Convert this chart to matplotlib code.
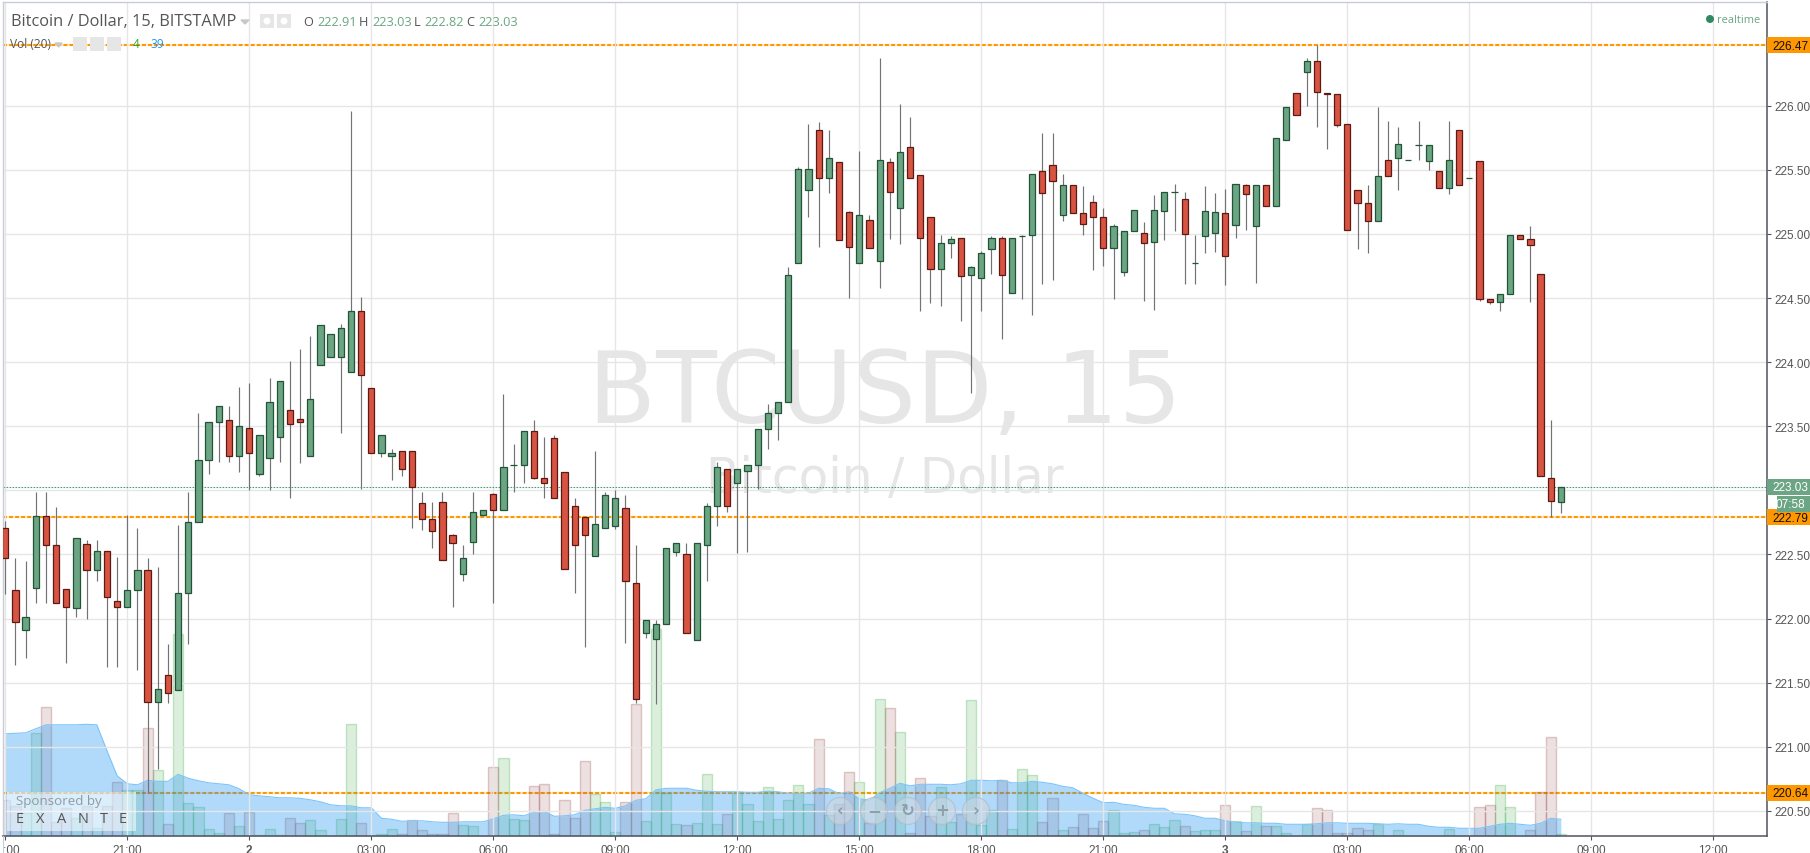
import matplotlib
matplotlib.use("Agg")
import numpy as np
import matplotlib.pyplot as plt
from matplotlib.patches import Circle, Rectangle

WIDTH = 1810
HEIGHT = 854
DPI = 100
PLOT_LEFT = 3.0
PLOT_RIGHT = 1767.3
PLOT_TOP = 2.7
PLOT_BOTTOM = 837.3
BAR_PX = 10.167
FIRST_BAR_PX = 5.3
PRICE_AT_TOP_GRID = 226.0
TOP_GRID_PX = 106.7
PX_PER_DOLLAR = 128.22
VOL_PER_PX = 2.0

UP = "#6ba583"
DOWN = "#d75442"
UP_EDGE = "#225437"
DOWN_EDGE = "#5b1a13"
WICK = "#737375"
GRID = "#e6e6e6"
AXIS = "#50535e"
ORANGE = "#ff9800"
TEXT = "#555555"

opens = [222.71, 222.22, 221.91, 222.24, 222.80, 222.57, 222.23, 222.08, 222.58, 222.38,
         222.53, 222.14, 222.09, 222.22, 222.38, 221.35, 221.56, 221.44, 222.20, 222.75,
         223.24, 223.53, 223.55, 223.27, 223.49, 223.13, 223.25, 223.42, 223.63, 223.56,
         223.27, 223.98, 224.04, 224.04, 223.92, 224.40, 223.80, 223.29, 223.27, 223.31,
         223.31, 222.90, 222.78, 222.91, 222.65, 222.35, 222.60, 222.81, 222.97, 222.85,
         223.20, 223.20, 223.46, 223.10, 223.41, 223.14, 222.88, 222.79, 222.49, 222.71,
         222.72, 222.86, 222.28, 221.89, 221.84, 221.96, 222.52, 222.50, 221.83, 222.57,
         222.88, 223.17, 223.06, 223.15, 223.20, 223.48, 223.60, 223.69, 224.77, 225.34,
         225.81, 225.44, 225.56, 225.17, 224.77, 225.11, 224.79, 225.56, 225.20, 225.68,
         225.46, 225.13, 224.73, 224.93, 224.97, 224.68, 224.66, 224.88, 224.97, 224.54,
         224.98, 224.99, 225.49, 225.54, 225.15, 225.38, 225.16, 225.25, 225.13, 224.89,
         224.70, 225.02, 225.01, 224.94, 225.18, 225.33, 225.27, 224.77, 224.98, 225.01,
         225.16, 225.07, 225.38, 225.06, 225.38, 225.22, 225.73, 226.10, 226.26, 226.35,
         226.10, 226.09, 225.86, 225.34, 225.24, 225.10, 225.58, 225.59, 225.58, 225.69,
         225.57, 225.49, 225.36, 225.81, 225.44, 225.57, 224.49, 224.47, 224.53, 224.99,
         224.96, 224.69, 223.10, 222.91]
highs = [222.76, 222.47, 222.45, 222.99, 222.99, 222.87, 222.23, 222.63, 222.61, 222.61,
         222.53, 222.48, 222.81, 222.71, 222.47, 222.40, 221.80, 222.73, 222.99, 223.60,
         223.53, 223.66, 223.66, 223.81, 223.84, 223.43, 223.88, 223.85, 224.01, 224.10,
         224.20, 224.29, 224.22, 224.30, 225.96, 224.51, 223.80, 223.43, 223.32, 223.31,
         223.31, 222.99, 222.91, 222.99, 222.66, 222.57, 222.99, 222.85, 222.98, 223.75,
         223.36, 223.46, 223.55, 223.42, 223.43, 223.14, 222.94, 222.79, 223.31, 222.99,
         223.00, 222.96, 222.57, 221.99, 221.99, 222.55, 222.59, 222.59, 222.59, 222.90,
         223.22, 223.17, 223.17, 223.20, 223.48, 223.67, 223.69, 224.74, 225.52, 225.86,
         225.87, 225.81, 225.56, 225.18, 225.65, 225.15, 226.37, 225.59, 226.01, 225.91,
         225.46, 225.13, 224.99, 224.98, 224.97, 224.75, 224.87, 224.98, 224.98, 224.97,
         224.99, 225.47, 225.79, 225.79, 225.47, 225.38, 225.37, 225.30, 225.20, 225.08,
         225.02, 225.19, 225.09, 225.30, 225.33, 225.39, 225.33, 224.99, 225.37, 225.32,
         225.35, 225.39, 225.39, 225.38, 225.38, 225.75, 225.99, 226.10, 226.37, 226.47,
         226.10, 226.09, 225.86, 225.34, 225.38, 225.99, 225.88, 225.83, 225.58, 225.88,
         225.69, 225.49, 225.88, 225.81, 225.44, 225.57, 224.49, 224.53, 224.99, 224.99,
         225.06, 224.69, 223.55, 223.03]
lows = [222.19, 221.64, 221.69, 222.12, 222.12, 222.12, 221.65, 222.01, 222.00, 222.29,
        221.62, 221.62, 222.09, 221.60, 220.64, 220.83, 221.34, 221.44, 221.80, 222.75,
        223.13, 223.22, 223.22, 223.14, 223.00, 223.11, 223.00, 223.22, 222.94, 223.21,
        223.27, 223.98, 224.04, 223.45, 223.92, 223.01, 223.29, 223.26, 223.08, 223.11,
        222.71, 222.69, 222.55, 222.46, 222.09, 222.29, 222.50, 222.81, 222.12, 222.85,
        222.99, 223.06, 223.09, 222.94, 222.94, 222.39, 222.20, 221.78, 222.49, 222.71,
        222.70, 221.81, 221.34, 221.85, 221.33, 221.96, 222.49, 221.89, 221.83, 222.29,
        222.72, 222.83, 222.51, 222.52, 223.01, 223.32, 223.39, 223.69, 224.77, 225.13,
        224.90, 225.32, 224.95, 224.50, 224.77, 224.89, 224.58, 224.96, 224.92, 225.44,
        224.40, 224.46, 224.44, 224.81, 224.32, 223.76, 224.40, 224.69, 224.18, 224.54,
        224.49, 224.37, 224.61, 224.64, 225.10, 225.16, 224.99, 224.72, 224.75, 224.49,
        224.67, 225.02, 224.48, 224.41, 224.95, 225.02, 224.61, 224.61, 224.85, 224.86,
        224.60, 224.97, 225.03, 224.62, 225.22, 225.22, 225.73, 225.93, 226.00, 225.83,
        225.66, 225.83, 225.03, 224.88, 224.85, 225.10, 225.45, 225.34, 225.58, 225.58,
        225.50, 225.36, 225.31, 225.38, 225.44, 224.48, 224.45, 224.40, 224.53, 224.96,
        224.47, 223.11, 222.79, 222.82]
closes = [222.47, 221.97, 222.01, 222.80, 222.57, 222.12, 222.09, 222.63, 222.38, 222.53,
          222.17, 222.09, 222.22, 222.38, 221.35, 221.45, 221.42, 222.20, 222.75, 223.24,
          223.53, 223.66, 223.27, 223.50, 223.29, 223.43, 223.69, 223.85, 223.52, 223.53,
          223.71, 224.29, 224.22, 224.27, 224.40, 223.90, 223.29, 223.43, 223.29, 223.17,
          223.03, 222.78, 222.68, 222.46, 222.59, 222.47, 222.83, 222.85, 222.85, 223.18,
          223.20, 223.46, 223.10, 223.06, 222.94, 222.39, 222.57, 222.65, 222.74, 222.96,
          222.94, 222.29, 221.37, 221.99, 221.96, 222.55, 222.59, 221.89, 222.59, 222.88,
          223.18, 222.88, 223.17, 223.20, 223.48, 223.60, 223.69, 224.68, 225.51, 225.51,
          225.44, 225.59, 224.95, 224.90, 225.15, 224.89, 225.58, 225.33, 225.64, 225.44,
          224.97, 224.73, 224.93, 224.96, 224.67, 224.74, 224.85, 224.97, 224.68, 224.97,
          224.98, 225.47, 225.32, 225.41, 225.38, 225.16, 225.08, 225.13, 224.89, 225.06,
          225.02, 225.19, 224.93, 225.19, 225.33, 225.33, 225.00, 224.77, 225.18, 225.17,
          224.83, 225.39, 225.31, 225.38, 225.22, 225.75, 225.99, 225.93, 226.35, 226.11,
          226.09, 225.85, 225.03, 225.24, 225.10, 225.45, 225.45, 225.70, 225.58, 225.69,
          225.69, 225.36, 225.58, 225.38, 225.44, 224.49, 224.47, 224.53, 224.99, 224.96,
          224.91, 223.11, 222.92, 223.03]

volumes = [73, 61, 47, 206, 258, 28, 57, 37, 60, 16, 60, 108, 93, 93, 217, 132, 24, 404, 67, 58,
           15, 6, 46, 20, 48, 2, 15, 2, 36, 26, 32, 12, 1, 34, 224, 26, 1, 4, 14, 4,
           32, 12, 4, 4, 46, 22, 20, 1, 138, 156, 34, 32, 101, 105, 4, 72, 36, 150, 84, 68,
           8, 68, 264, 30, 414, 86, 24, 22, 26, 124, 24, 44, 88, 64, 30, 98, 34, 72, 102, 64,
           194, 42, 64, 128, 108, 27, 274, 256, 208, 6, 116, 40, 98, 28, 44, 272, 22, 52, 112, 14,
           134, 122, 28, 76, 12, 18, 44, 16, 30, 52, 6, 8, 12, 24, 18, 32, 20, 10, 12, 12,
           62, 30, 10, 60, 20, 20, 6, 1, 24, 56, 52, 6, 6, 16, 12, 24, 1, 12, 1, 1,
           1, 1, 14, 1, 1, 58, 62, 102, 58, 1, 12, 88, 198, 4]
volume_ma = [205, 206, 207, 215, 223, 223, 223, 223, 224, 223, 171, 121, 105, 103, 112, 110, 110, 124, 116, 111,
             107, 105, 103, 95, 83, 81, 79, 77, 77, 76, 73, 69, 63, 61, 61, 57, 57, 36, 34, 30,
             31, 31, 29, 28, 28, 29, 29, 29, 35, 42, 43, 41, 48, 50, 40, 41, 43, 52, 55, 58,
             56, 61, 72, 75, 93, 96, 96, 96, 92, 90, 89, 89, 89, 88, 88, 90, 89, 86, 85, 86,
             96, 95, 85, 89, 75, 72, 87, 96, 106, 101, 104, 104, 104, 103, 105, 112, 112, 111, 112, 107,
             107, 110, 108, 105, 100, 97, 86, 76, 67, 68, 64, 62, 58, 56, 56, 45, 44, 41, 36, 36,
             31, 28, 27, 27, 26, 26, 24, 24, 24, 25, 27, 27, 26, 26, 26, 25, 24, 25, 24, 24,
             20, 18, 18, 16, 16, 16, 20, 24, 26, 24, 22, 26, 36, 34]

price_ticks = [220.5, 221.0, 221.5, 222.0, 222.5, 223.0, 223.5, 224.0, 224.5, 225.0, 225.5, 226.0]
time_tick_bars = [0, 12, 24, 36, 48, 60, 72, 84, 96, 108, 120, 132, 144, 156, 168]
time_tick_labels = ["18:00", "21:00", "2", "03:00", "06:00", "09:00", "12:00", "15:00",
                    "18:00", "21:00", "3", "03:00", "06:00", "09:00", "12:00"]
level_lines = [226.47, 222.79, 220.64]
last_price = 223.03
countdown = "07:58"
ohlc_labels = ["O", "H", "L", "C"]
ohlc_values = ["222.91", "223.03", "222.82", "223.03"]


def price_at(px):
    return PRICE_AT_TOP_GRID - (px - TOP_GRID_PX) / PX_PER_DOLLAR


def bar_at(px):
    return (px - FIRST_BAR_PX) / BAR_PX


def add_tag(ax, price, text, face, color, left_frac=0.0):
    # tag sits right of the price axis, in axes x and data y
    trans = ax.get_yaxis_transform()
    half = 8 / PX_PER_DOLLAR
    width = (WIDTH - PLOT_RIGHT) / (PLOT_RIGHT - PLOT_LEFT)
    ax.add_patch(Rectangle((1 + left_frac * width, price - half), width * (1 - left_frac), half * 2,
                           transform=trans, facecolor=face, edgecolor="none", clip_on=False, zorder=8))
    ax.text(1 + 0.54 * width, price - 0.004, text, transform=trans, ha="center", va="center",
            color=color, fontsize=8.5, family="Liberation Sans", clip_on=False, zorder=9)


def draw_chart(ax):
    x = np.arange(len(opens))
    o = np.array(opens)
    h = np.array(highs)
    l = np.array(lows)
    c = np.array(closes)
    is_up = c >= o

    ax.set_facecolor("none")
    ax.set_xlim(bar_at(PLOT_LEFT), bar_at(PLOT_RIGHT))
    ax.set_ylim(price_at(PLOT_BOTTOM), price_at(PLOT_TOP))
    ax.set_axisbelow(True)
    ax.grid(True, color=GRID, lw=1.0)

    ax.axhline(last_price, color="#4f9a76", lw=0.8, dashes=(1.5, 1.2), zorder=1.6)

    ax.vlines(x, l, h, color=WICK, lw=0.85, zorder=4)
    for mask, face, edge in ((is_up, UP, UP_EDGE), (~is_up, DOWN, DOWN_EDGE)):
        ax.bar(x[mask], (c - o)[mask], bottom=o[mask], width=0.62, color=face,
               edgecolor=edge, linewidth=0.9, zorder=5)

    ax.yaxis.tick_right()
    ax.set_yticks(price_ticks)
    ax.set_yticklabels(["" if p == 223.0 else f"{p:.2f}" for p in price_ticks],
                       family="Liberation Sans", fontsize=8.5, color=TEXT)
    ax.set_xticks(time_tick_bars)
    ax.set_xticklabels(time_tick_labels, family="Liberation Sans", fontsize=8.5, color=TEXT)
    for label, text in zip(ax.get_xticklabels(), time_tick_labels):
        if len(text) == 1:
            label.set_fontweight("bold")
    ax.tick_params(axis="y", length=3, width=0.8, color=AXIS, pad=2.0)
    ax.tick_params(axis="x", length=3, width=0.8, color=AXIS, pad=2.5)

    for side in ("top", "left"):
        ax.spines[side].set_color("#c8ccd8")
        ax.spines[side].set_linewidth(1.0)
    for side in ("right", "bottom"):
        ax.spines[side].set_color(AXIS)
        ax.spines[side].set_linewidth(1.1)

    for level in level_lines:
        add_tag(ax, level, f"{level:.2f}", ORANGE, "#111111")
    add_tag(ax, last_price, f"{last_price:.2f}", UP, "white")
    add_tag(ax, last_price - 17 / PX_PER_DOLLAR, countdown, UP, "white", left_frac=0.22)


def draw_volume(ax):
    x = np.arange(len(volumes))
    v = np.array(volumes)
    is_up = np.array(closes) >= np.array(opens)

    vol_ax = ax.twinx()
    vol_ax.set_ylim(0, (PLOT_BOTTOM - PLOT_TOP) * VOL_PER_PX)
    vol_ax.set_yticks([])
    vol_ax.set_zorder(ax.get_zorder() - 1)
    vol_ax.patch.set_visible(False)
    for spine in vol_ax.spines.values():
        spine.set_visible(False)

    # level lines go here so the volume area tints them
    trans = ax.get_yaxis_transform()
    for level in level_lines:
        vol_ax.plot([0, 1], [level, level], transform=trans, color=ORANGE, lw=1.5, alpha=0.2, zorder=1.4)
        vol_ax.plot([0, 1], [level, level], transform=trans, color=ORANGE, lw=1.5, dashes=(1.9, 1.0), zorder=1.5)

    vol_ax.bar(x[is_up], v[is_up], width=1.0, color=(0.298, 0.686, 0.314, 0.2),
               edgecolor=(0.298, 0.686, 0.314, 0.3), linewidth=1.0, zorder=2)
    vol_ax.bar(x[~is_up], v[~is_up], width=1.0, color=(0.62, 0.33, 0.33, 0.18),
               edgecolor=(0.62, 0.33, 0.33, 0.3), linewidth=1.0, zorder=2)
    vol_ax.fill_between(x, 0, volume_ma, color="#2196f3", alpha=0.35, lw=0, zorder=3)
    vol_ax.plot(x, volume_ma, color="#7cc4fa", lw=0.8, zorder=3.1)


def draw_header(fig_ax):
    fig_ax.text(10.5, 22, "Bitcoin / Dollar, 15, BITSTAMP", fontsize=11.8, color=TEXT,
                family="Open Sans", va="center")
    fig_ax.fill([241, 249, 245], [21, 21, 25], color="#c8c8c8")
    for left in (260, 277):
        fig_ax.add_patch(Rectangle((left, 15), 14, 14, facecolor="#e6e6e6", edgecolor="none"))
        fig_ax.add_patch(Circle((left + 7, 22), 3.5, facecolor="white", edgecolor="none"))
    label_x = [303, 358.5, 414, 466]
    value_x = [317, 372, 424, 478]
    for lx, vx, label, value in zip(label_x, value_x, ohlc_labels, ohlc_values):
        fig_ax.text(lx, 23, label, fontsize=9.2, color=TEXT, family="Open Sans", va="center")
        fig_ax.text(vx, 23, value, fontsize=9.2, color=UP, family="Open Sans", va="center")

    fig_ax.text(10, 45, "Vol (20)", fontsize=8.6, color=TEXT, family="Open Sans", va="center")
    fig_ax.fill([55, 62, 58.5], [44, 44, 48], color="#c8c8c8")
    for left in (73, 90, 107):
        fig_ax.add_patch(Rectangle((left, 38), 14, 14, facecolor="#e6e6e6", edgecolor="none"))
    fig_ax.text(133, 45, "4", fontsize=8.6, color="#2ca02c", family="Open Sans", va="center")
    fig_ax.text(150, 45, "39", fontsize=8.6, color="#2196f3", family="Open Sans", va="center")

    fig_ax.add_patch(Circle((1710, 20), 4, facecolor="#2e8b5f", edgecolor="none"))
    fig_ax.text(1717, 20.5, "realtime", fontsize=7.9, color="#6ba583", family="Open Sans", va="center")


def draw_overlays(fig_ax):
    # sponsor box and the scroll buttons float above everything
    fig_ax.add_patch(Rectangle((7, 793), 129, 39, facecolor="white", alpha=0.55, edgecolor="none"))
    fig_ax.text(16, 802, "Sponsored by", fontsize=9.6, color="#8f9aa3", family="Open Sans", va="center")
    for lx, letter in zip([16, 36, 57, 78, 100, 119], "EXANTE"):
        fig_ax.text(lx, 819.5, letter, fontsize=10.5, color="#555555", family="Open Sans", va="center")

    glyphs = ["\u2039", "\u2212", "\u21bb", "+", "\u203a"]
    for cx, glyph in zip([840, 874, 908, 942, 976], glyphs):
        fig_ax.add_patch(Circle((cx, 812), 13.5, facecolor=(0.82, 0.84, 0.87, 0.55),
                                edgecolor=(0.7, 0.72, 0.76, 0.6), lw=1))
        fig_ax.text(cx, 811, glyph, fontsize=12, color="#8aa0ad", ha="center", va="center",
                    family="DejaVu Sans", fontweight="bold")

    # the first time label is cut by the chart's left edge
    fig_ax.add_patch(Rectangle((0, 838), 3, 16, facecolor="white", edgecolor="none"))
    fig_ax.plot([2.7, 2.7], [837, 854], color="#c8ccd8", lw=0.8)


def pixel_axes(fig, zorder):
    pax = fig.add_axes([0, 0, 1, 1], zorder=zorder)
    pax.set_xlim(0, WIDTH)
    pax.set_ylim(HEIGHT, 0)
    pax.axis("off")
    pax.patch.set_visible(False)
    return pax


def main():
    fig = plt.figure(figsize=(WIDTH / DPI, HEIGHT / DPI), dpi=DPI, facecolor="white")

    under = pixel_axes(fig, -5)
    under.text(885, 423, "BTCUSD, 15", fontsize=71.5, color="#e6e6e6", family="DejaVu Sans",
               ha="center", va="baseline")
    under.text(885, 493, "Bitcoin / Dollar", fontsize=35, color="#e6e6e6", family="DejaVu Sans",
               ha="center", va="baseline")

    ax = fig.add_axes([PLOT_LEFT / WIDTH, 1 - PLOT_BOTTOM / HEIGHT,
                       (PLOT_RIGHT - PLOT_LEFT) / WIDTH, (PLOT_BOTTOM - PLOT_TOP) / HEIGHT], zorder=1)
    # twinx moves the ticks to the left, so the volume pane goes in first
    draw_volume(ax)
    draw_chart(ax)

    over = pixel_axes(fig, 5)
    draw_header(over)
    draw_overlays(over)

    fig.savefig("out.png", dpi=DPI)
    plt.close(fig)


if __name__ == "__main__":
    main()
